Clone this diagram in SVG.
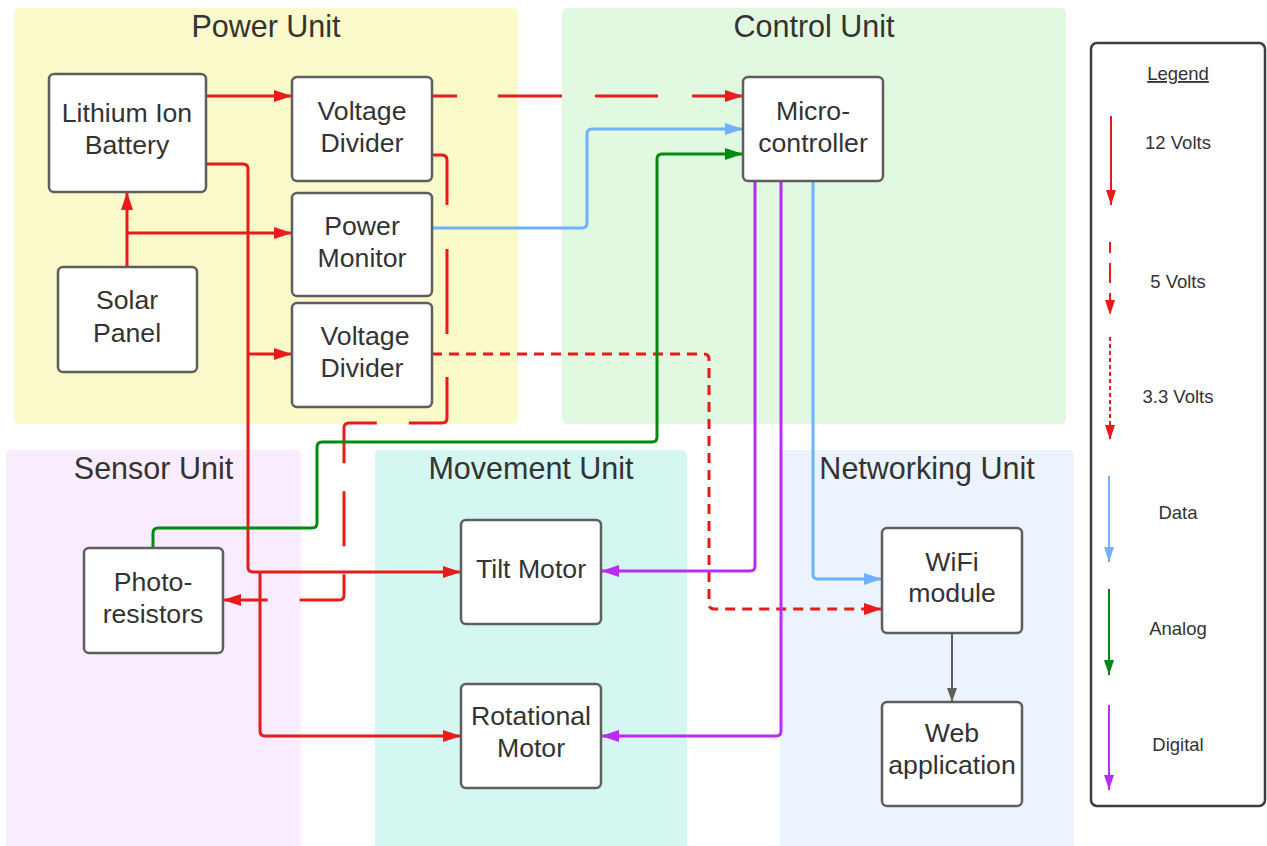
<svg xmlns="http://www.w3.org/2000/svg" width="1267" height="846" viewBox="0 0 1267 846">
<style>
.ttl{font-family:"Liberation Sans",Arial,sans-serif;font-size:30.5px;fill:#333;text-anchor:middle}
.nt{font-family:"Liberation Sans",Arial,sans-serif;font-size:26.67px;fill:#333;text-anchor:middle}
.lt{font-family:"Liberation Sans",Arial,sans-serif;font-size:18.5px;fill:#333;text-anchor:middle}
.box{fill:#fff;stroke:#5e5e5e;stroke-width:2.5}
.c{fill:none;stroke-width:3;stroke-linejoin:round}
.r{stroke:#e81a1a}
.b{stroke:#6db1ff}
.g{stroke:#008a0e}
.p{stroke:#b92cf5}
.d5{stroke-dasharray:25 41 64 33 63 34 100}
.d5b{stroke-dasharray:63 44 85 43 82 32 71 28 55 28 68 32 100}
.d3{stroke-dasharray:10 7}
.lg{fill:none;stroke-width:2}
</style>
<defs>
<marker id="ar" markerUnits="userSpaceOnUse" markerWidth="18" markerHeight="12" refX="18" refY="6" orient="auto"><path d="M0,0 L18,6 L0,12 z" fill="#e81a1a"/></marker>
<marker id="ab" markerUnits="userSpaceOnUse" markerWidth="18" markerHeight="12" refX="18" refY="6" orient="auto"><path d="M0,0 L18,6 L0,12 z" fill="#6db1ff"/></marker>
<marker id="ag" markerUnits="userSpaceOnUse" markerWidth="18" markerHeight="12" refX="18" refY="6" orient="auto"><path d="M0,0 L18,6 L0,12 z" fill="#008a0e"/></marker>
<marker id="ap" markerUnits="userSpaceOnUse" markerWidth="18" markerHeight="12" refX="18" refY="6" orient="auto"><path d="M0,0 L18,6 L0,12 z" fill="#b92cf5"/></marker>
<marker id="ay" markerUnits="userSpaceOnUse" markerWidth="14" markerHeight="10" refX="14" refY="5" orient="auto"><path d="M0,0 L14,5 L0,10 z" fill="#5e5e5e"/></marker>
<marker id="lr" markerUnits="userSpaceOnUse" markerWidth="15" markerHeight="10" refX="15" refY="5" orient="auto"><path d="M0,0 L15,5 L0,10 z" fill="#e81a1a"/></marker>
<marker id="lb" markerUnits="userSpaceOnUse" markerWidth="15" markerHeight="10" refX="15" refY="5" orient="auto"><path d="M0,0 L15,5 L0,10 z" fill="#6db1ff"/></marker>
<marker id="lgm" markerUnits="userSpaceOnUse" markerWidth="15" markerHeight="10" refX="15" refY="5" orient="auto"><path d="M0,0 L15,5 L0,10 z" fill="#008a0e"/></marker>
<marker id="lp" markerUnits="userSpaceOnUse" markerWidth="15" markerHeight="10" refX="15" refY="5" orient="auto"><path d="M0,0 L15,5 L0,10 z" fill="#b92cf5"/></marker>
</defs>
<rect width="1267" height="846" fill="#fff"/>
<g id="containers">
<g id="power-unit"><rect x="14" y="8" width="504" height="416" rx="5" fill="#fbfacb"/><text class="ttl" x="266" y="37">Power Unit</text></g>
<g id="control-unit"><rect x="562" y="8" width="504" height="416" rx="5" fill="#e2f9e1"/><text class="ttl" x="814" y="37">Control Unit</text></g>
<g id="sensor-unit"><rect x="6" y="450" width="295" height="402" rx="5" fill="#f9ecfe"/><text class="ttl" x="153.5" y="479">Sensor Unit</text></g>
<g id="movement-unit"><rect x="375" y="450" width="312" height="402" rx="5" fill="#d5f7f2"/><text class="ttl" x="531" y="479">Movement Unit</text></g>
<g id="networking-unit"><rect x="780" y="450" width="294" height="402" rx="5" fill="#ebf3fe"/><text class="ttl" x="927" y="479">Networking Unit</text></g>
</g>
<g id="connectors">
<path class="c r" d="M206,96 H292" marker-end="url(#ar)"/>
<path class="c r" d="M206,164 H243 Q248,164 248,169 V567 Q248,572 253,572 H461" marker-end="url(#ar)"/>
<path class="c r" d="M248,354 H292" marker-end="url(#ar)"/>
<path class="c r" d="M260,572 V731 Q260,736 265,736 H461" marker-end="url(#ar)"/>
<path class="c r" d="M127,267 V192" marker-end="url(#ar)"/>
<path class="c r" d="M127,233 H292" marker-end="url(#ar)"/>
<path class="c r d5" d="M432,96 H743" marker-end="url(#ar)"/>
<path class="c r d5b" d="M432,155 H442 Q447,155 447,160 V418 Q447,423 442,423 H349 Q344,423 344,428 V595 Q344,600 339,600 H223" marker-end="url(#ar)"/>
<path class="c r d3" d="M432,354 H704 Q709,354 709,359 V604 Q709,609 714,609 H882" marker-end="url(#ar)"/>
<path class="c b" d="M432,228 H582 Q587,228 587,223 V134 Q587,129 592,129 H743" marker-end="url(#ab)"/>
<path class="c b" d="M813,181 V574 Q813,579 818,579 H882" marker-end="url(#ab)"/>
<path class="c g" d="M153,548 V533 Q153,528 158,528 H312 Q317,528 317,523 V447 Q317,442 322,442 H652 Q657,442 657,437 V159 Q657,154 662,154 H743" marker-end="url(#ag)"/>
<path class="c p" d="M755,181 V566 Q755,571 750,571 H601" marker-end="url(#ap)"/>
<path class="c p" d="M781,181 V731 Q781,736 776,736 H601" marker-end="url(#ap)"/>
<path fill="none" stroke="#5e5e5e" stroke-width="2" d="M952,633 V702" marker-end="url(#ay)"/>
</g>
<g id="battery"><rect class="box" x="49" y="74" width="157" height="118" rx="5"/><text class="nt" x="127" y="122">Lithium Ion</text><text class="nt" x="127" y="154">Battery</text></g>
<g id="voltage-divider-1"><rect class="box" x="292" y="77" width="140" height="104" rx="5"/><text class="nt" x="362" y="120">Voltage</text><text class="nt" x="362" y="152">Divider</text></g>
<g id="power-monitor"><rect class="box" x="292" y="193" width="140" height="103" rx="5"/><text class="nt" x="362" y="235">Power</text><text class="nt" x="362" y="267">Monitor</text></g>
<g id="voltage-divider-2"><rect class="box" x="292" y="303" width="140" height="104" rx="5"/><text class="nt" x="365" y="345">Voltage</text><text class="nt" x="362" y="377">Divider</text></g>
<g id="solar-panel"><rect class="box" x="58" y="267" width="139" height="105" rx="5"/><text class="nt" x="127" y="309">Solar</text><text class="nt" x="127" y="342">Panel</text></g>
<g id="microcontroller"><rect class="box" x="743" y="77" width="140" height="104" rx="5"/><text class="nt" x="813" y="120">Micro-</text><text class="nt" x="813" y="152">controller</text></g>
<g id="photo-resistors"><rect class="box" x="84" y="548" width="139" height="105" rx="5"/><text class="nt" x="153" y="591">Photo-</text><text class="nt" x="153" y="623">resistors</text></g>
<g id="tilt-motor"><rect class="box" x="461" y="520" width="140" height="104" rx="5"/><text class="nt" x="531" y="578">Tilt Motor</text></g>
<g id="rotational-motor"><rect class="box" x="461" y="684" width="140" height="104" rx="5"/><text class="nt" x="531" y="725">Rotational</text><text class="nt" x="531" y="757">Motor</text></g>
<g id="wifi-module"><rect class="box" x="882" y="528" width="140" height="105" rx="5"/><text class="nt" x="952" y="571">WiFi</text><text class="nt" x="952" y="602">module</text></g>
<g id="web-application"><rect class="box" x="882" y="702" width="140" height="104" rx="5"/><text class="nt" x="952" y="742">Web</text><text class="nt" x="952" y="774">application</text></g>
<g id="legend">
<rect x="1091" y="43" width="174" height="763" rx="6" fill="#fff" stroke="#3a3e45" stroke-width="2.5"/>
<text class="lt" x="1178" y="80" text-decoration="underline">Legend</text>
<path class="lg r" d="M1111,116 V205" marker-end="url(#lr)"/>
<text class="lt" x="1178" y="149">12 Volts</text>
<path class="lg r" stroke-dasharray="20 10" stroke-dashoffset="9" d="M1110,242 V315" marker-end="url(#lr)"/>
<text class="lt" x="1178" y="288">5 Volts</text>
<path class="lg r" stroke-dasharray="4 3" d="M1110,337 V440" marker-end="url(#lr)"/>
<text class="lt" x="1178" y="403">3.3 Volts</text>
<path class="lg b" d="M1109,476 V562" marker-end="url(#lb)"/>
<text class="lt" x="1178" y="519">Data</text>
<path class="lg g" d="M1109,589 V675" marker-end="url(#lgm)"/>
<text class="lt" x="1178" y="635">Analog</text>
<path class="lg p" d="M1109,705 V790" marker-end="url(#lp)"/>
<text class="lt" x="1178" y="751">Digital</text>
</g>
</svg>
